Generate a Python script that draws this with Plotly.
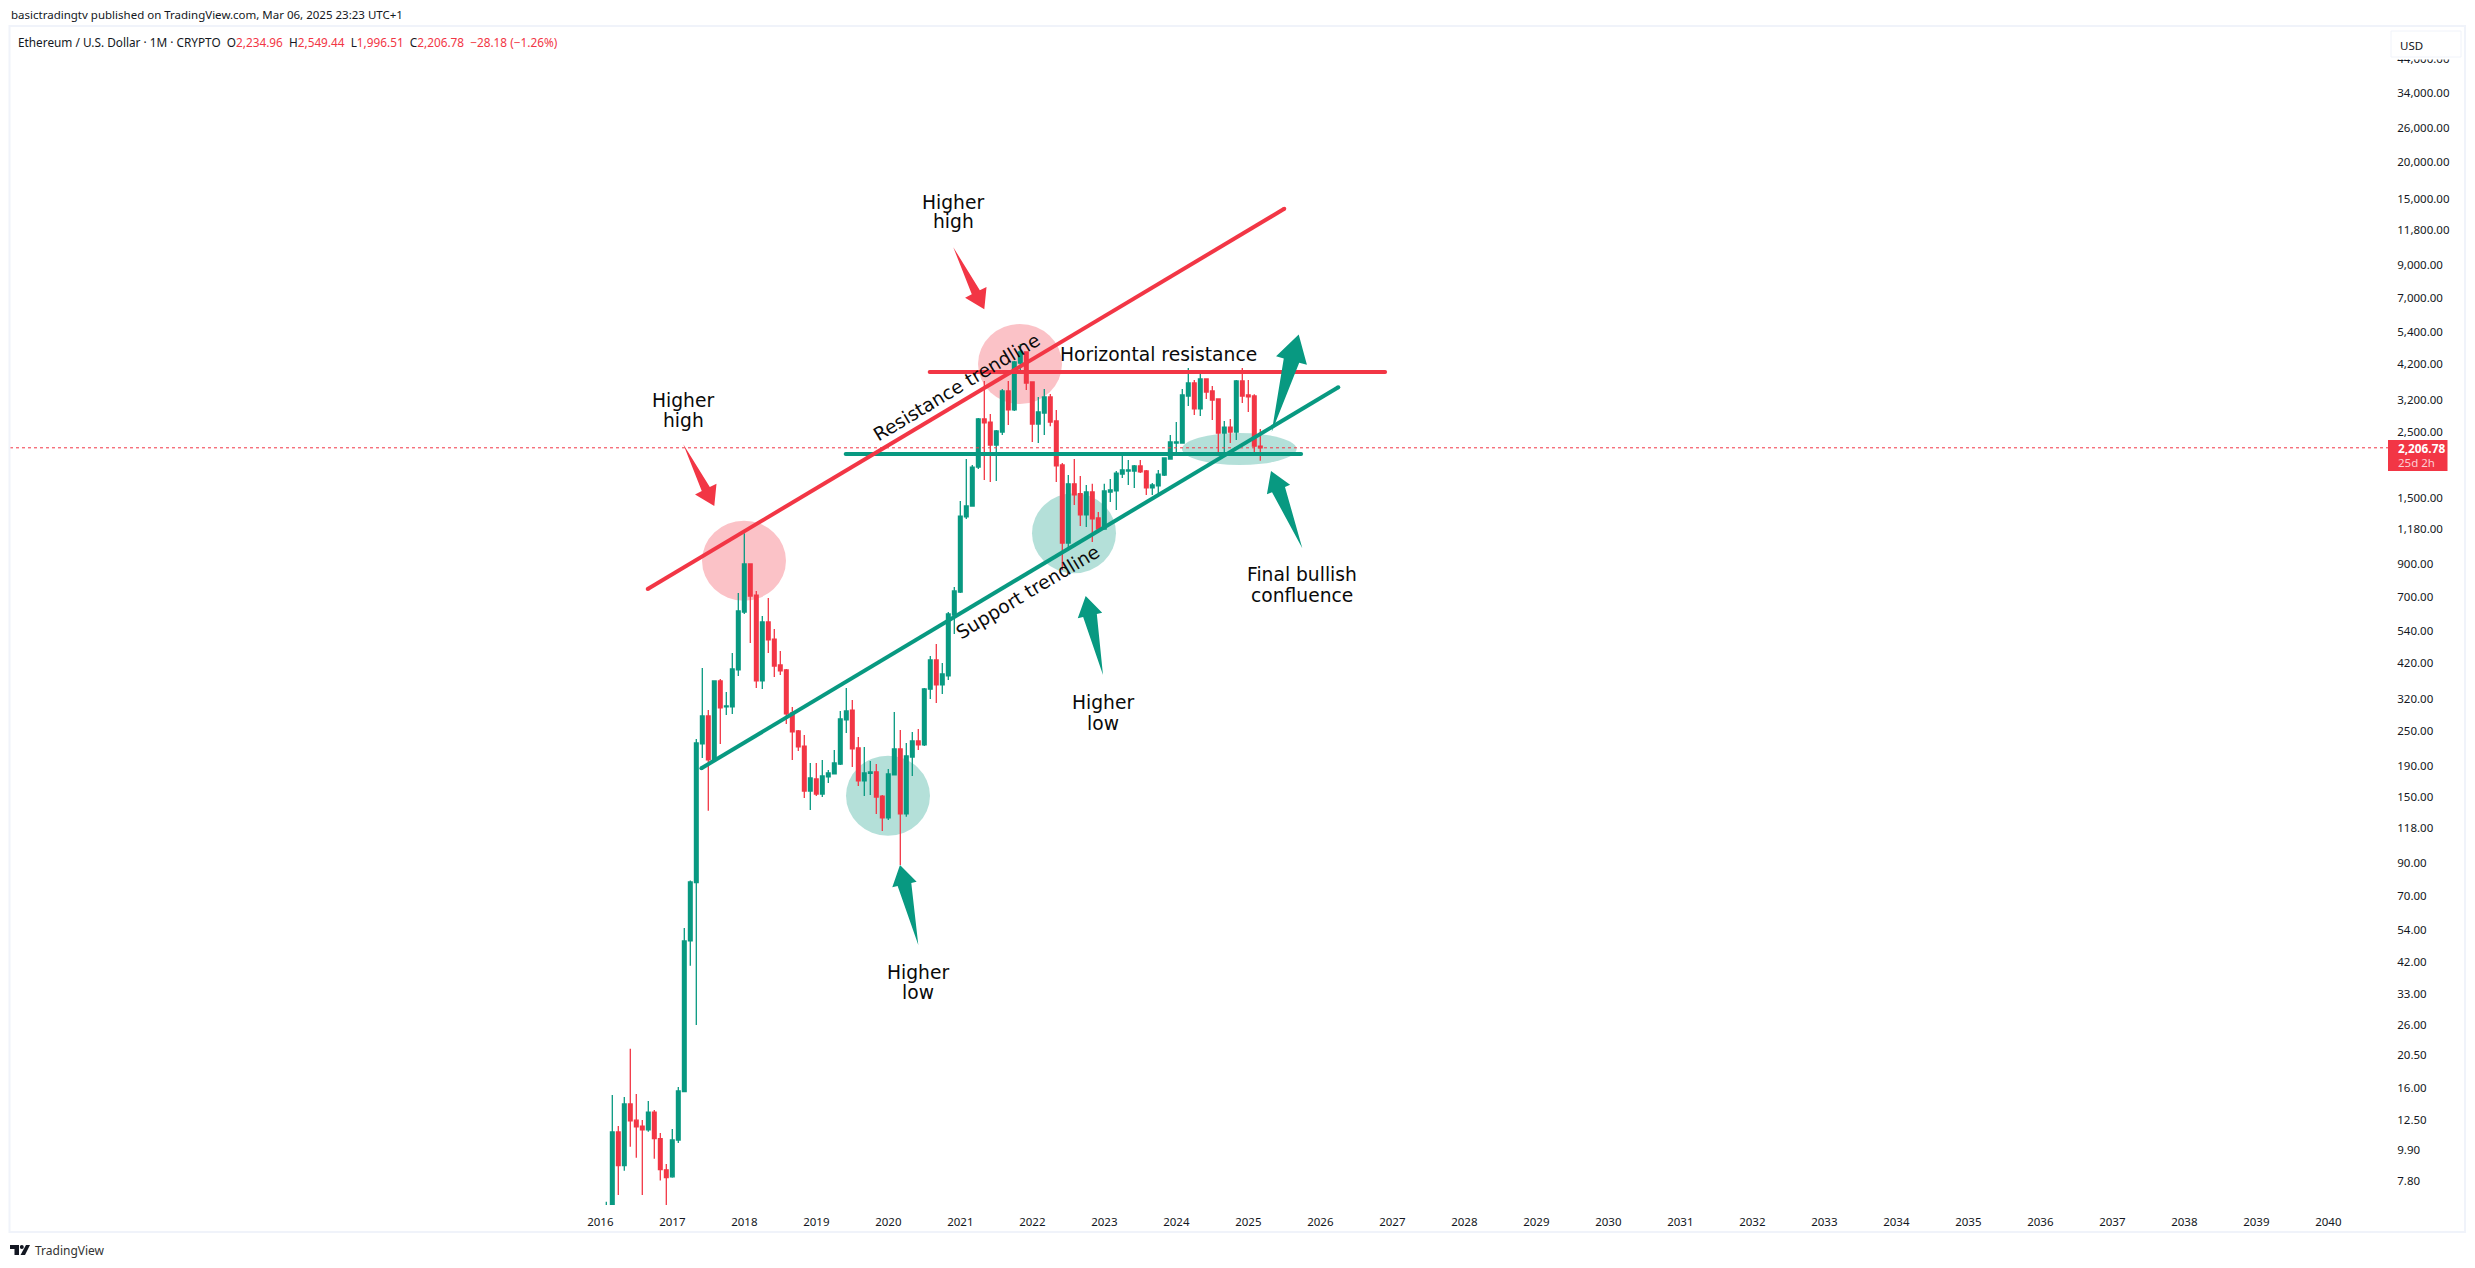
import math
import plotly.graph_objects as go

# ---------- data ----------
months = [f"2016-{m:02d}" for m in range(2, 13)] + \
         [f"{y}-{m:02d}" for y in range(2017, 2025) for m in range(1, 13)] + \
         ["2025-01", "2025-02", "2025-03"]

open_ = [2.5,5.5,11.37,8.78,14.11,12.45,11.9,11.57,13.26,10.8,8.5,
 8.05,10.69,15.52,49.5,77.6,226,280,199.5,366.5,300,300,398.9,
 623,902,710,366.5,577,506,414.5,399,286.5,249.4,222,157,
 172.3,153.5,175,179.1,193.4,271.4,293,219,169.7,180,182,151,
 127.7,177.7,217.2,131.7,204,231,224,344,430.8,355.9,380.9,609,
 727,1296,1410,1903,2755,2690,2255,2492,3417,2953,4239,4614,
 3663,2651,2885,3264,2713,1933,1060,1672,1550,1316,1570,1286,
 1181,1570,1583,1803,1846,1846,1919,1846,1620,1645,1790,2024,
 2290,2290,3289,3635,2976,3749,3417,3214,2473,2589,2492,3692,
 3314,3289,2234.96]
high = [6.64,15.13,11.91,14.9,21.57,15.24,12.47,14.44,13.47,11.29,8.89,
 11.64,16.09,54.7,78.8,234.5,405,293.2,368,372,336.8,454.7,721.6,
 1142,905,732.8,604.5,694.4,547,461.7,402,300,251.3,241.8,194.9,
 194.9,199.5,184.7,215.5,291,347.3,316.6,238,220.5,198,193.4,152.3,
 186.1,288.7,251.3,227.4,247.5,253.3,347.3,444.4,487.2,421,623.4,755.7,
 1466,2024,1933,2776,3692,2863,2531,3470,3692,4305,4907,4640,
 3680,3264,3470,3340,2953,1963,1790,2024,1776,1657,1672,1346,
 1672,1735,1846,2088,2009,1933,2009,1860,1684,1860,2045,2435,
 2692,3470,4079,3720,3956,3760,3550,3220,2713,2755,3720,4079,
 3720,3330,2549.44]
low = [2.2,5.0,7.0,8.44,10.15,9.33,7.0,11.4,9.26,7.82,5.9,
 8.0,10.45,15.48,40.9,25.94,202.6,134.8,199,225.6,282,284,380.9,
 614,491,347.3,344.7,454.7,378,383.8,263.2,199.5,213.8,148.8,135.8,
 151.2,150,167.1,179,192,245.6,189,163.3,151.2,152.3,131.7,115.5,
 125.7,177.7,88.9,128.7,176.4,215.5,222.2,319,309.4,331.6,369.3,526,
 721.6,1276,1410,1874,1722,1696,1709,2435,2630,2930,3896,3444,
 2308,2290,2435,2604,1696,861.5,1021,1421,1209,1200,1068,1145,
 1181,1454,1367,1749,1657,1620,1817,1535,1535,1547,1776,2024,
 2137,2290,3045,2842,2820,3214,2734,2120,2137,2290,2344,3115,
 2908,2088,1996.51]
close = [5.5,11.37,8.78,14.11,12.4,11.84,11.57,13.26,10.8,8.51,8.0,
 10.69,15.6,49.5,78,227.4,280,199.5,366.5,297.8,302.4,402,628,
 902,705,366.5,577,502.5,411.3,395.8,284.3,247.5,220.5,157.1,173.6,
 153.5,176.4,180.5,194.9,273.5,291,217.2,169.7,180.5,181.9,150,127.7,
 179.1,217.2,131.7,205.7,231,223.9,344.7,430.8,355.9,386.8,613.9,732.8,
 1305,1410,1903,2755,2672,2255,2512,3417,2953,4272,4614,3635,
 2651,2908,3264,2692,1919,1060,1672,1535,1316,1570,1276,1181,
 1583,1595,1817,1860,1860,1919,1832,1620,1657,1803,2040,2308,
 2308,3314,3635,2976,3749,3391,3189,2473,2589,2492,3692,3289,
 3264,2234.96,2206.78]

tick_years = list(range(2016, 2041))
price_ticks = [44000,34000,26000,20000,15000,11800,9000,7000,5400,4200,3200,2500,
               1500,1180,900,700,540,420,320,250,190,150,118,90,70,54,42,33,26,20.5,16,12.5,9.9,7.8]
last_price = 2206.78

# drawn lines: x in months counted from 2016-02, y in USD
resistance_x, resistance_y = [6.9, 113.0], [744.2, 13900]
support_x, support_y = [15.85, 122.0], [187.1, 3516]
h_resistance_x, h_resistance_y = [53.9, 129.8], [3956, 3956]
h_support_x, h_support_y = [39.9, 115.8], [2104, 2104]

# ---------- palette / frame ----------
GREEN, RED = "#089981", "#f23645"
INK = "#131722"
W, H = 2475, 1268
L, R, T, B = 10, 2388, 27, 1205
FONT = "Noto Sans"
DRAW = "DejaVu Sans"

def xp(px): return (px - L) / (R - L)
def yp(py): return (B - py) / (B - T)

x_idx = list(range(len(months)))
fig = go.Figure()
fig.add_trace(go.Candlestick(
    x=x_idx, open=open_, high=high, low=low, close=close,
    increasing=dict(line=dict(color=GREEN, width=1.3), fillcolor=GREEN),
    decreasing=dict(line=dict(color=RED, width=1.3), fillcolor=RED),
    whiskerwidth=0, hoverinfo="skip", showlegend=False))

X0, X1 = (L - 606.3) / 6, (R - 606.3) / 6
fig.add_trace(go.Scatter(x=[X0, X1], y=[last_price, last_price], mode="lines",
                         line=dict(color=RED, width=1, dash="dot"), hoverinfo="skip", showlegend=False))
for xs, ys, col, w in [(h_support_x, h_support_y, GREEN, 4), (h_resistance_x, h_resistance_y, RED, 4),
                       (resistance_x, resistance_y, RED, 4), (support_x, support_y, GREEN, 4)]:
    fig.add_trace(go.Scatter(x=xs, y=ys, mode="lines+markers", line=dict(color=col, width=w),
                             marker=dict(color=col, size=w), hoverinfo="skip", showlegend=False))

shapes = []
def ell(cx, cy, rx, ry, col):
    shapes.append(dict(type="circle", xref="paper", yref="paper", layer="below",
                       x0=xp(cx - rx), x1=xp(cx + rx), y0=yp(cy + ry), y1=yp(cy - ry),
                       fillcolor=col, line=dict(width=0)))
RC, GC = "rgba(242,54,69,0.3)", "rgba(8,153,129,0.3)"
ell(744, 560.7, 42, 40, RC)
ell(1020, 364, 42, 40, RC)
ell(888, 795.7, 42, 40, GC)
ell(1074, 533.3, 42, 40, GC)
ell(1239.3, 449, 57.3, 16, GC)

def arrow(tail, tip, hl, hh, nh, col):
    dx, dy = tip[0] - tail[0], tip[1] - tail[1]
    n = math.hypot(dx, dy); dx /= n; dy /= n
    px, py = -dy, dx
    bx, by = tip[0] - hl * dx, tip[1] - hl * dy
    pts = [tail, (bx + nh * px, by + nh * py), (bx + hh * px, by + hh * py), tip,
           (bx - hh * px, by - hh * py), (bx - nh * px, by - nh * py)]
    path = "M" + " L".join(f"{xp(a):.5f},{yp(b):.5f}" for a, b in pts) + " Z"
    shapes.append(dict(type="path", xref="paper", yref="paper", path=path, fillcolor=col,
                       line=dict(width=0), layer="above"))
arrow((683.3, 444.3), (714.3, 506), 19, 12, 4.5, RED)
arrow((953.3, 247.3), (984.3, 309.3), 19, 12, 4.5, RED)
arrow((918.3, 945), (900, 865), 20, 12.5, 7, GREEN)
arrow((1103, 675), (1085.7, 596), 20, 12.5, 7, GREEN)
arrow((1302.3, 548.3), (1271, 471), 20, 12.5, 7, GREEN)
arrow((1271.7, 432), (1298.7, 334.5), 27, 16, 8, GREEN)

def rect(x0, y0, x1, y1, **kw):
    shapes.append(dict(type="rect", xref="paper", yref="paper", x0=xp(x0), x1=xp(x1), y0=yp(y1), y1=yp(y0),
                       layer="above", **kw))
# panel border, USD badge, last price badge
rect(9.5, 26, 2465, 1232, line=dict(color="#f0f3fa", width=2))
rect(2389, 28, 2463.5, 59.5, fillcolor="white", line=dict(width=0))
rect(2391, 31, 2461, 57, fillcolor="white", line=dict(color="#f0f3fa", width=1))
rect(2388, 440, 2447.5, 471, fillcolor=RED, line=dict(width=0))
# logo
for pts in [[(10, 1245), (19, 1245), (19, 1255), (14.5, 1255), (14.5, 1249), (10, 1249)],
            [(26, 1245), (30, 1245), (25, 1255), (20.5, 1255)]]:
    shapes.append(dict(type="path", xref="paper", yref="paper", layer="above", fillcolor="#131722", line=dict(width=0),
                       path="M" + " L".join(f"{xp(a):.5f},{yp(b):.5f}" for a, b in pts) + " Z"))
shapes.append(dict(type="circle", xref="paper", yref="paper", layer="above", x0=xp(19.8), x1=xp(23.8),
                   y0=yp(1249), y1=yp(1245), fillcolor="#131722", line=dict(width=0)))

ann = []
def txt(x, y, s, size=18.7, color="#0a0a0a", anchor="center", font=DRAW, angle=0):
    ann.append(dict(xref="paper", yref="paper", x=xp(x), y=yp(y), text=s, showarrow=False,
                    xanchor=anchor, yanchor="middle", textangle=angle,
                    font=dict(family=font, size=size, color=color)))
txt(683, 400, "Higher"); txt(683, 420, "high")
txt(953, 202, "Higher"); txt(953, 222, "high")
txt(918, 972.7, "Higher"); txt(918, 992, "low")
txt(1103, 702, "Higher"); txt(1103, 723, "low")
txt(1302, 574, "Final bullish"); txt(1302, 595, "confluence")
txt(1158, 355, "Horizontal resistance")
txt(956.5, 388, "Resistance trendline", angle=-31)
txt(1027, 592, "Support trendline", angle=-31)

txt(8.5, 15, "basictradingtv published on TradingView.com, Mar 06, 2025 23:23 UTC+1", size=11.5, color=INK, anchor="left", font=FONT)
v = lambda s: f'<span style="color:{RED}">{s}</span>'
txt(15.5, 42, "Ethereum / U.S. Dollar · 1M · CRYPTO  O" + v("2,234.96") + "  H" + v("2,549.44") + "  L" + v("1,996.51")
    + "  C" + v("2,206.78") + "  " + v("−28.18 (−1.26%)"), size=11.8, color=INK, anchor="left", font=FONT)
txt(2398, 45, "USD", size=11.5, color=INK, anchor="left", font=FONT)
txt(2395.5, 448.5, "<b>2,206.78</b>", size=11.8, color="white", anchor="left", font=FONT)
txt(2395.5, 462, "25d 2h", size=11.5, color="#fcd0d4", anchor="left", font=FONT)
txt(33, 1250.5, "TradingView", size=12, color="#333333", anchor="left", font=FONT)

fig.update_layout(
    width=W, height=H, autosize=False, paper_bgcolor="white", plot_bgcolor="white",
    margin=dict(l=L, r=W - R, t=T, b=H - B, pad=0), showlegend=False,
    boxgap=0, boxgroupgap=0.383, shapes=shapes, annotations=ann,
    xaxis=dict(range=[X0, X1], tickmode="array", tickvals=[12 * (y - 2016) - 1 for y in tick_years],
               ticktext=[str(y) for y in tick_years], showgrid=False, zeroline=False, showline=False,
               rangeslider=dict(visible=False), ticks="outside", ticklen=6, tickcolor="rgba(0,0,0,0)",
               tickfont=dict(family=FONT, size=11.5, color=INK)),
    yaxis=dict(type="log", side="right", range=[0.81166, 4.75094], tickmode="array", tickvals=price_ticks,
               ticktext=[f"{p:,.2f}" for p in price_ticks], showgrid=False, zeroline=False, showline=False,
               ticks="outside", ticklen=6, tickcolor="rgba(0,0,0,0)",
               tickfont=dict(family=FONT, size=11.5, color=INK)),
)
fig.write_html("out.html", config=dict(displayModeBar=False),
               post_script="document.body.style.margin='0';document.body.style.overflow='hidden';")
